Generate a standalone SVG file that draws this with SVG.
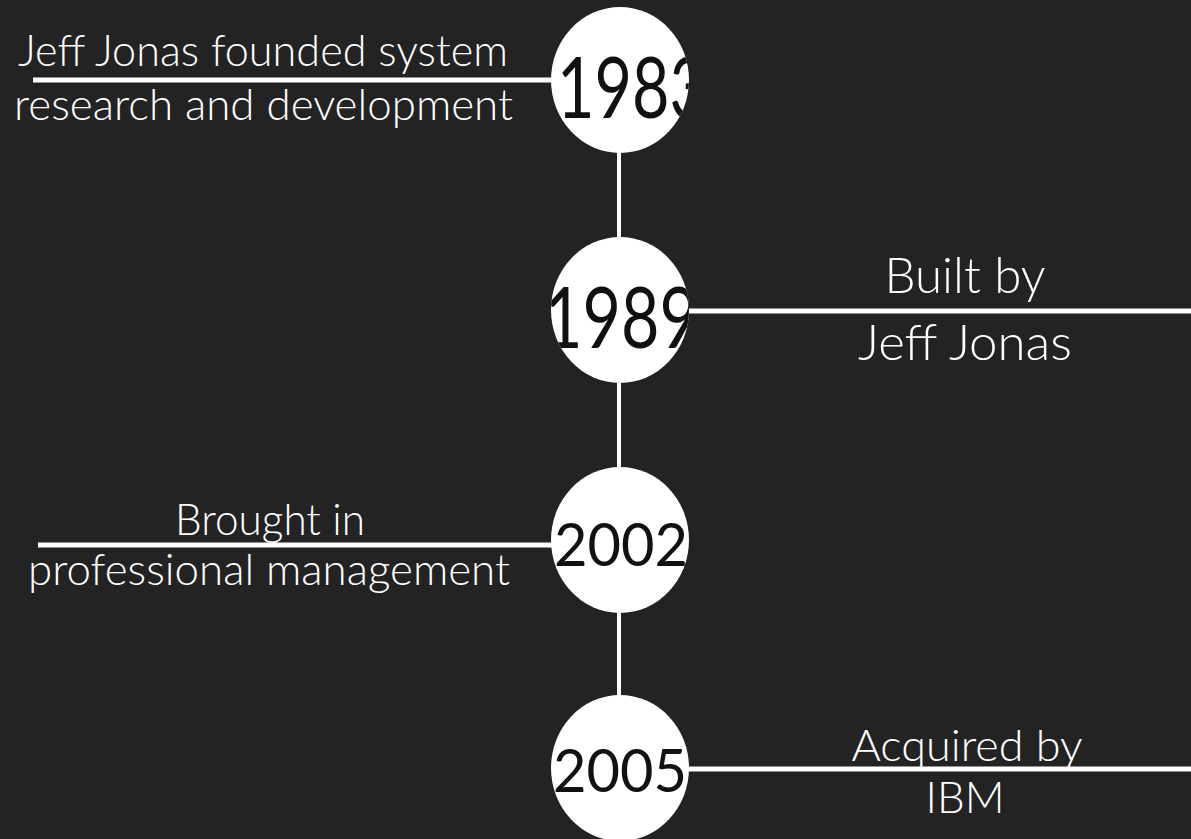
<svg xmlns="http://www.w3.org/2000/svg" width="1191" height="839" viewBox="0 0 1191 839">
  <style>
    .bg { fill: #232323; }
    .dot { fill: #ffffff; }
    .conn { stroke: #ffffff; stroke-width: 5; fill: none; }
    .stem { stroke: #ffffff; stroke-width: 4; fill: none; }
    .year { fill: #111111; font-family: "Lato", "Liberation Sans", sans-serif; font-weight: 400; }
    .label { fill: #ffffff; font-family: "Lato", "Liberation Sans", sans-serif; font-weight: 300; }
  </style>
  <defs>
    <clipPath id="c1983"><ellipse cx="620" cy="80" rx="69" ry="73"/></clipPath>
    <clipPath id="c1989"><ellipse cx="620" cy="310" rx="69" ry="73"/></clipPath>
    <clipPath id="c2002"><ellipse cx="620" cy="540" rx="69" ry="73"/></clipPath>
    <clipPath id="c2005"><ellipse cx="620" cy="768" rx="69" ry="73"/></clipPath>
  </defs>
  <rect class="bg" x="0" y="0" width="1191" height="839"/>

  <g id="connectors">
    <line class="stem" x1="619" y1="150" x2="619" y2="240"/>
    <line class="stem" x1="619" y1="380" x2="619" y2="470"/>
    <line class="stem" x1="619" y1="610" x2="619" y2="698"/>
    <line class="conn" x1="33" y1="80" x2="553" y2="80"/>
    <line class="conn" x1="687" y1="311" x2="1191" y2="311"/>
    <line class="conn" x1="38" y1="545" x2="554" y2="545"/>
    <line class="conn" x1="686" y1="769" x2="1191" y2="769"/>
  </g>

  <g id="node-1983">
    <ellipse class="dot" cx="620" cy="80" rx="69" ry="73"/>
    <text class="year" x="557" y="118" font-size="86" textLength="150" lengthAdjust="spacingAndGlyphs" clip-path="url(#c1983)">1983</text>
    <text class="label" x="18" y="66" font-size="44" textLength="490" lengthAdjust="spacingAndGlyphs">Jeff Jonas founded system</text>
    <text class="label" x="14" y="120" font-size="44" textLength="499" lengthAdjust="spacingAndGlyphs">research and development</text>
  </g>

  <g id="node-1989">
    <ellipse class="dot" cx="620" cy="310" rx="69" ry="73"/>
    <text class="year" x="544" y="348" font-size="86" textLength="154" lengthAdjust="spacingAndGlyphs" clip-path="url(#c1989)">1989</text>
    <text class="label" x="965" y="293" font-size="50" text-anchor="middle" textLength="161" lengthAdjust="spacingAndGlyphs">Built by</text>
    <text class="label" x="965" y="360" font-size="50" text-anchor="middle" textLength="214" lengthAdjust="spacingAndGlyphs">Jeff Jonas</text>
  </g>

  <g id="node-2002">
    <ellipse class="dot" cx="620" cy="540" rx="69" ry="73"/>
    <text class="year" x="554" y="566" font-size="60" textLength="134" lengthAdjust="spacingAndGlyphs" clip-path="url(#c2002)">2002</text>
    <text class="label" x="270" y="535" font-size="44" text-anchor="middle" textLength="190" lengthAdjust="spacingAndGlyphs">Brought in</text>
    <text class="label" x="269" y="585" font-size="44" text-anchor="middle" textLength="482" lengthAdjust="spacingAndGlyphs">professional management</text>
  </g>

  <g id="node-2005">
    <ellipse class="dot" cx="620" cy="768" rx="69" ry="73"/>
    <text class="year" x="553" y="792" font-size="60" textLength="134" lengthAdjust="spacingAndGlyphs" clip-path="url(#c2005)">2005</text>
    <text class="label" x="967" y="761" font-size="44" text-anchor="middle" textLength="231" lengthAdjust="spacingAndGlyphs">Acquired by</text>
    <text class="label" x="965" y="813" font-size="44" text-anchor="middle" textLength="79" lengthAdjust="spacingAndGlyphs">IBM</text>
  </g>
</svg>
